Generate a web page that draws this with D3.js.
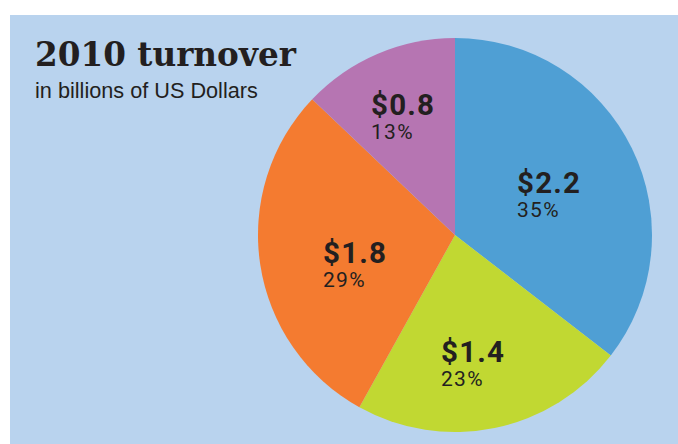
<!DOCTYPE html>
<html>
<head>
<meta charset="utf-8">
<script src="https://cdn.jsdelivr.net/npm/d3@7"></script>
<style>
  html, body { margin: 0; padding: 0; background: #ffffff; }
  svg { display: block; }
</style>
</head>
<body>
<svg id="chart" width="678" height="444"></svg>
<script>
// ---- data ----
const categories = ["A", "B", "C", "D"];
const values = [2.2, 1.4, 1.8, 0.8];
const valueLabels = ["$2.2", "$1.4", "$1.8", "$0.8"];
const percentLabels = ["35%", "23%", "29%", "13%"];
const colors = ["#4f9fd4", "#c1d832", "#f47b30", "#b675b2"];
const titleText = "2010 turnover";
const subtitleText = "in billions of US Dollars";

// ---- layout ----
const W = 678, H = 444;
const cx = 455, cy = 235, R = 197;
// label anchor offsets relative to pie centre (left x, value baseline)
const labelOffsets = [[62, -42], [-14, 127], [-132, 28], [-84, -120]];

const svg = d3.select("#chart");

svg.append("rect").attr("x", 10).attr("y", 15)
  .attr("width", W - 10).attr("height", H - 15)
  .attr("fill", "#b9d3ee");

const pie = d3.pie().sort(null).value(d => d)(values);
const arc = d3.arc().innerRadius(0).outerRadius(R);

const g = svg.append("g").attr("transform", `translate(${cx},${cy})`);
g.selectAll("path").data(pie).join("path")
  .attr("d", arc)
  .attr("fill", (d, i) => colors[i]);

const lg = g.selectAll("g.lab").data(pie).join("g").attr("class", "lab")
  .attr("transform", (d, i) => `translate(${labelOffsets[i][0]},${labelOffsets[i][1]})`);
lg.append("text")
  .attr("x", 0).attr("y", 0)
  .attr("font-family", "Roboto, 'Liberation Sans', sans-serif")
  .attr("font-weight", "bold")
  .attr("font-size", 29.5)
  .attr("letter-spacing", 1.2)
  .attr("fill", "#231f20")
  .text((d, i) => valueLabels[i]);
lg.append("text")
  .attr("x", 0).attr("y", 24)
  .attr("font-family", "Roboto, 'Liberation Sans', sans-serif")
  .attr("font-size", 21)
  .attr("letter-spacing", 1.3)
  .attr("fill", "#231f20")
  .text((d, i) => percentLabels[i]);

// titles
const title = svg.append("text")
  .attr("x", 35).attr("y", 66)
  .attr("font-family", "'DejaVu Serif', 'Liberation Serif', serif")
  .attr("font-weight", "bold")
  .attr("font-size", 29)
  .attr("fill", "#231f20")
  .text(titleText);
const tw = title.node().getComputedTextLength();
title.attr("font-size", 29 * 261 / tw);

const sub = svg.append("text")
  .attr("x", 35).attr("y", 98)
  .attr("font-family", "'Liberation Sans', Arial, sans-serif")
  .attr("font-size", 19)
  .attr("fill", "#231f20")
  .text(subtitleText);
const sw = sub.node().getComputedTextLength();
sub.attr("font-size", 19 * 223 / sw);
</script>
</body>
</html>
